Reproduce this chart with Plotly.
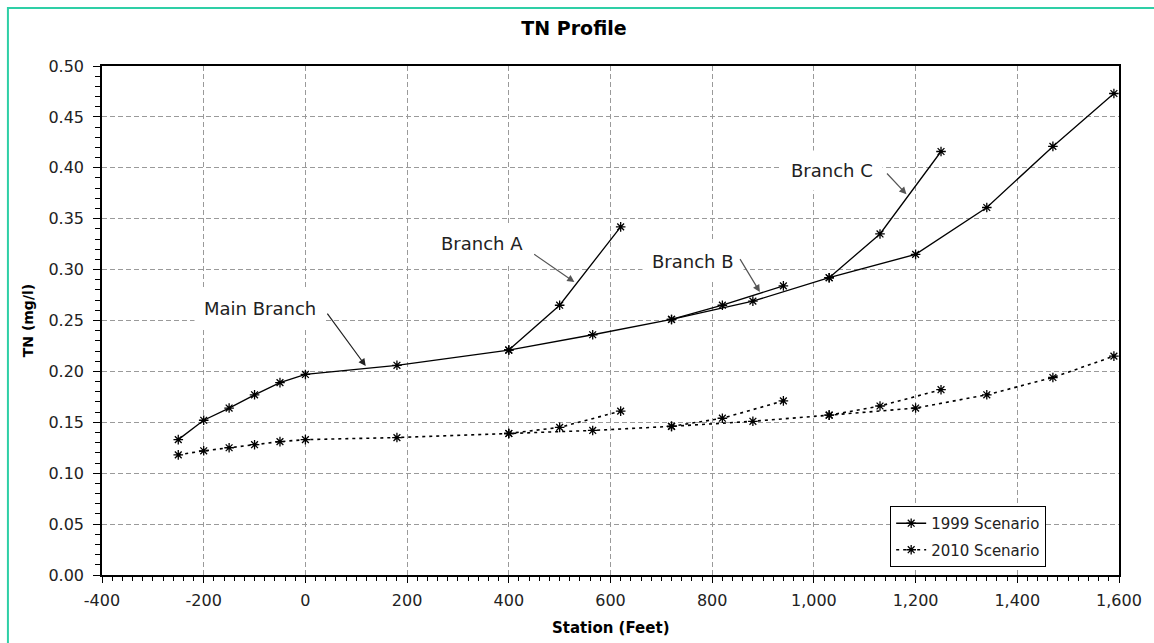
import plotly.graph_objects as go

# ---- data ----
stations_main = [-250, -200, -150, -100, -50, 0, 180, 400, 565, 720, 880, 1030, 1200, 1340, 1470, 1590]
tn1999_main = [0.133, 0.152, 0.164, 0.177, 0.189, 0.197, 0.206, 0.221, 0.236, 0.251, 0.269, 0.292, 0.315, 0.361, 0.421, 0.473]
tn2010_main = [0.118, 0.122, 0.125, 0.128, 0.131, 0.133, 0.135, 0.139, 0.142, 0.146, 0.151, 0.157, 0.164, 0.177, 0.194, 0.215]

stations_a = [400, 500, 620]
tn1999_a = [0.221, 0.265, 0.342]
tn2010_a = [0.139, 0.145, 0.161]

stations_b = [720, 820, 940]
tn1999_b = [0.251, 0.265, 0.284]
tn2010_b = [0.146, 0.154, 0.171]

stations_c = [1030, 1130, 1250]
tn1999_c = [0.292, 0.335, 0.416]
tn2010_c = [0.157, 0.166, 0.182]

x_tickvals = [-400, -200, 0, 200, 400, 600, 800, 1000, 1200, 1400, 1600]
x_ticktext = ["-400", "-200", "0", "200", "400", "600", "800", "1,000", "1,200", "1,400", "1,600"]
y_tickvals = [0.0, 0.05, 0.10, 0.15, 0.20, 0.25, 0.30, 0.35, 0.40, 0.45, 0.50]
y_ticktext = ["0.00", "0.05", "0.10", "0.15", "0.20", "0.25", "0.30", "0.35", "0.40", "0.45", "0.50"]

FONT = "DejaVu Sans"

fig = go.Figure()

marker = dict(symbol="asterisk-open", size=8, color="black", line=dict(color="black", width=1.3))

branches = [
    (stations_main, tn1999_main, tn2010_main, True),
    (stations_a, tn1999_a, tn2010_a, False),
    (stations_b, tn1999_b, tn2010_b, False),
    (stations_c, tn1999_c, tn2010_c, False),
]
for xs, y99, y10, show in branches:
    fig.add_trace(go.Scatter(
        x=xs, y=y99, mode="lines+markers", name="1999 Scenario",
        legendgroup="1999", showlegend=show,
        line=dict(color="black", width=1.3), marker=marker,
    ))
for xs, y99, y10, show in branches:
    fig.add_trace(go.Scatter(
        x=xs, y=y10, mode="lines+markers", name="2010 Scenario",
        legendgroup="2010", showlegend=show,
        line=dict(color="black", width=1.6, dash="3px,4px"), marker=marker,
    ))

# text labels
labels = [
    ("Main Branch", -90, 0.262),
    ("Branch A", 348, 0.326),
    ("Branch B", 762, 0.3075),
    ("Branch C", 1035, 0.397),
]
for txt, x, y in labels:
    fig.add_annotation(x=x, y=y, text=txt, showarrow=False, bgcolor="white",
                       borderpad=9, font=dict(family=FONT, size=18, color="#222"))

# arrows (tail -> head)
arrows = [
    (41, 0.2583, 118.6, 0.2053, "#222"),
    (447, 0.316, 529, 0.2878, "#555"),
    (853, 0.3118, 893.7, 0.278, "#555"),
    (1141, 0.3959, 1182, 0.374, "#555"),
]
for tx, ty, hx, hy, col in arrows:
    fig.add_annotation(x=hx, y=hy, ax=tx, ay=ty, axref="x", ayref="y", xref="x", yref="y",
                       text="", showarrow=True, arrowhead=2, arrowsize=1.2,
                       arrowwidth=1.2, arrowcolor=col)

# axis titles
fig.add_annotation(xref="paper", yref="paper", x=0.5, y=-0.105, yanchor="middle",
                   text="<b>Station (Feet)</b>", showarrow=False,
                   font=dict(family=FONT, size=15, color="black"))
fig.add_annotation(xref="paper", yref="paper", x=-0.073, y=0.5, xanchor="center", textangle=-90,
                   text="<b>TN (mg/l)</b>", showarrow=False,
                   font=dict(family=FONT, size=14, color="black"))

# teal frame
fig.add_shape(type="rect", xref="paper", yref="paper", x0=-0.0925, x1=1.05, y0=-0.2, y1=1.114,
              line=dict(color="#2ecfa6", width=2), layer="above")

fig.update_layout(
    width=1154, height=643,
    margin=dict(l=102, r=29, t=66, b=68),
    paper_bgcolor="white", plot_bgcolor="white",
    font=dict(family=FONT, size=16, color="#222"),
    title=dict(text="<b>TN Profile</b>", xref="container", x=0.4974, xanchor="center",
               yref="container", y=1 - 28 / 643, yanchor="middle",
               font=dict(family=FONT, size=19, color="black")),
    showlegend=True,
    legend=dict(x=0.775, y=0.1356, xanchor="left", yanchor="top",
                bgcolor="white", bordercolor="black", borderwidth=1,
                font=dict(family=FONT, size=15, color="#222"),
                tracegroupgap=4),
    xaxis=dict(range=[-400, 1600], tickvals=x_tickvals, ticktext=x_ticktext,
               showgrid=True, gridcolor="#9a9a9a", griddash="5px,3px", gridwidth=1,
               showline=True, linecolor="black", linewidth=1.5, mirror=True,
               ticks="outside", ticklen=6, tickcolor="black", tickwidth=1,
               minor=dict(dtick=20, ticks="outside", ticklen=4, tickcolor="black", showgrid=False),
               zeroline=False, ticklabelstandoff=4),
    yaxis=dict(range=[0, 0.5], tickvals=y_tickvals, ticktext=y_ticktext,
               showgrid=True, gridcolor="#9a9a9a", griddash="5px,3px", gridwidth=1,
               showline=True, linecolor="black", linewidth=1.5, mirror=True,
               ticks="outside", ticklen=7, tickcolor="black", tickwidth=1,
               minor=dict(dtick=0.01, ticks="outside", ticklen=5, tickcolor="black", showgrid=False),
               zeroline=False, ticklabelstandoff=6),
)

fig.write_html("out.html")
